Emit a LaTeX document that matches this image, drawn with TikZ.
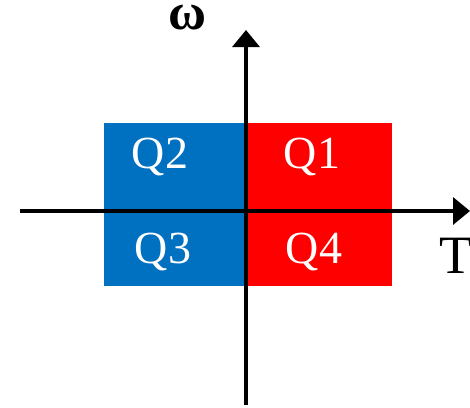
\documentclass[tikz,border=0pt]{standalone}
\usepackage{fontspec}
\setmainfont{Liberation Serif}
\usetikzlibrary{arrows.meta}
\definecolor{qblue}{HTML}{0070C0}
\definecolor{qred}{HTML}{FF0000}
\begin{document}
\begin{tikzpicture}[x=1pt,y=-1pt,
  quad/.style={draw=none,minimum width=142pt,minimum height=82pt,inner sep=0pt},
  qlabel/.style={text=white,font=\fontsize{46}{46}\selectfont,inner sep=0pt},
  axis/.style={line width=3.5pt,-{Triangle[length=17pt,width=27pt]}}]
\useasboundingbox (0,0) rectangle (470,407);
\node[quad,fill=qblue,anchor=north east,minimum width=142pt] (q2) at (246,123) {};
\node[quad,fill=qblue,anchor=north east,minimum width=142pt,minimum height=81pt] (q3) at (246,205) {};
\node[quad,fill=qred,anchor=north west,minimum width=146pt] (q1) at (246,123) {};
\node[quad,fill=qred,anchor=north west,minimum width=146pt,minimum height=81pt] (q4) at (246,205) {};
\node[qlabel] (l2) at (160,157) {Q2};
\node[qlabel] (l1) at (312,157) {Q1};
\node[qlabel] (l3) at (163,252) {Q3};
\node[qlabel] (l4) at (314,252) {Q4};
\coordinate (xs) at (20,211);
\coordinate (xe) at (470,211);
\coordinate (ys) at (246,405);
\coordinate (ye) at (246,30);
\draw[axis] (xs) -- (xe);
\draw[axis] (ys) -- (ye);
\node[font=\bfseries\fontsize{52}{52}\selectfont,inner sep=0pt] (om) at (188,18) {ω};
\node[font=\fontsize{54}{54}\selectfont,inner sep=0pt,anchor=base] (T) at (456,273) {T};
\end{tikzpicture}
\end{document}
